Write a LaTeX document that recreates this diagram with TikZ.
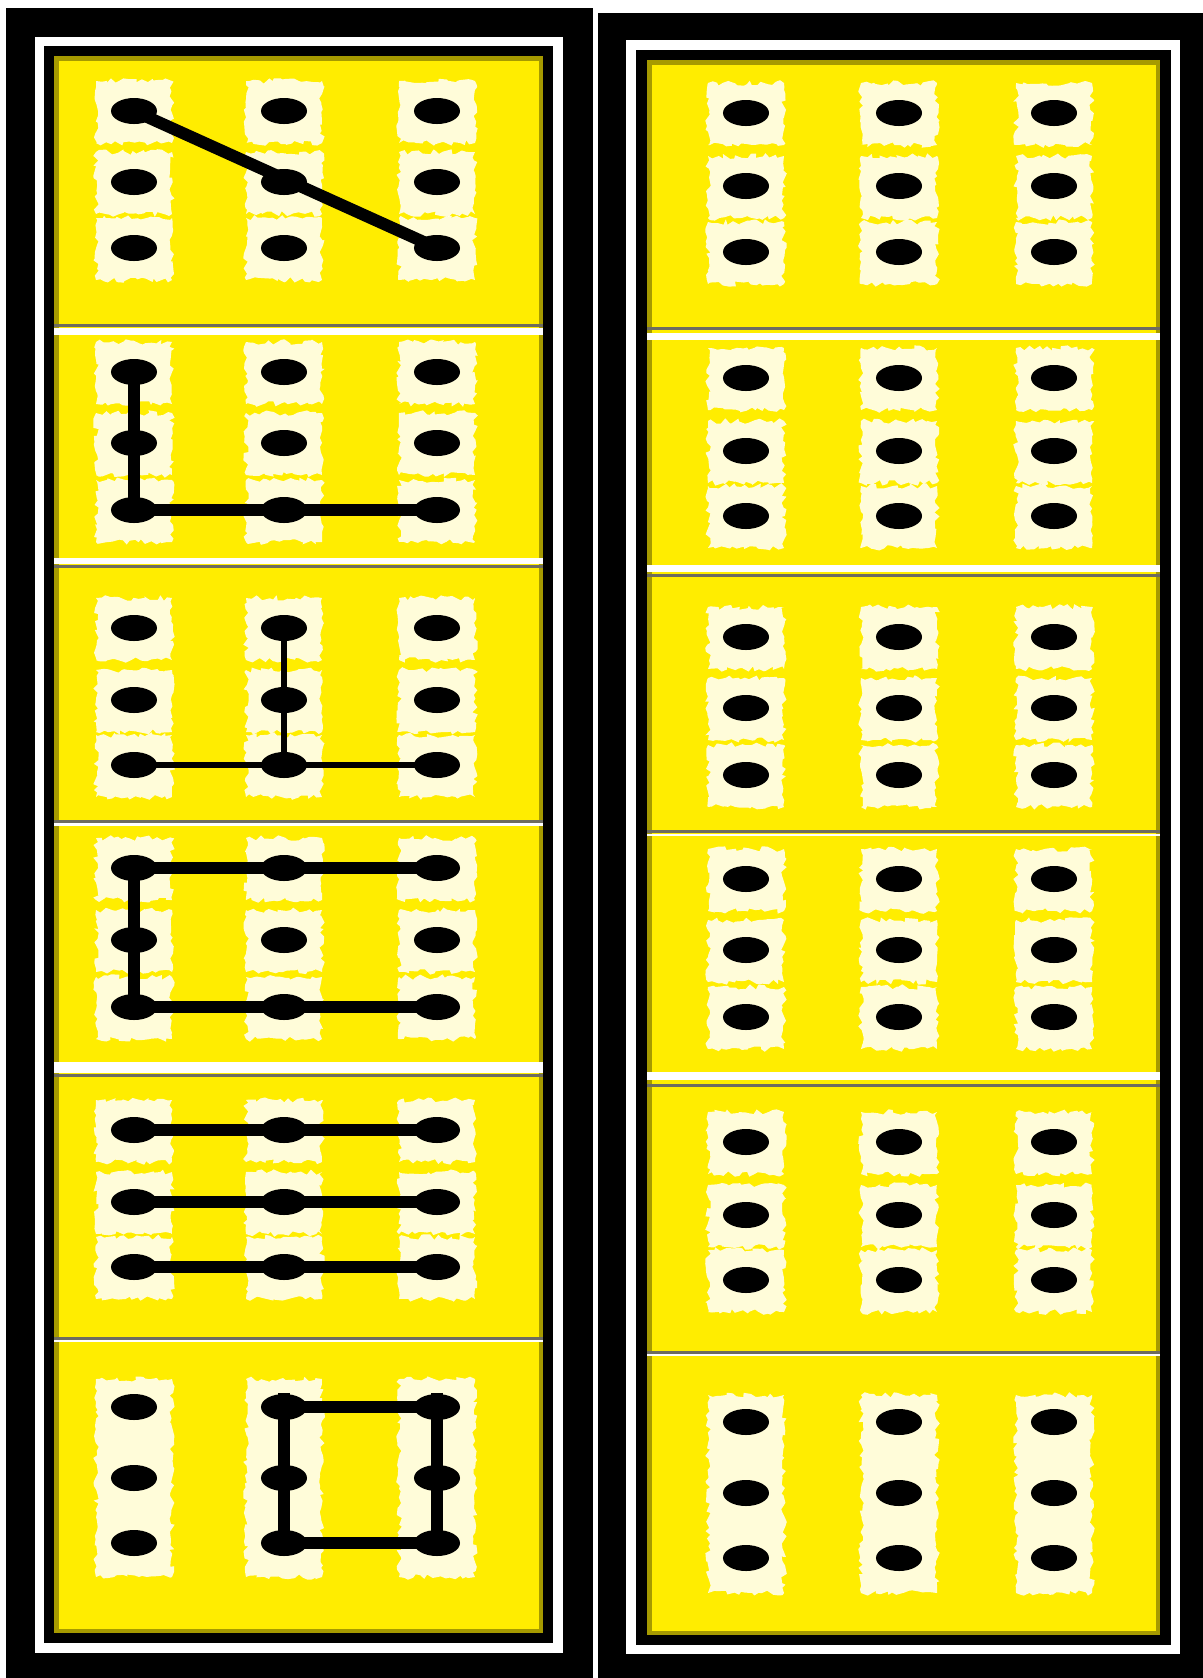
\documentclass[tikz,border=0pt]{standalone}
\usepackage{tikz}
\usetikzlibrary{shapes.geometric,decorations.pathmorphing}
\definecolor{PadYellow}{RGB}{255,237,0}
\definecolor{RuleGrey}{RGB}{110,108,96}

\begin{document}
\begin{tikzpicture}[
  x=0.01cm, y=-0.01cm,
  dot/.style={ellipse,fill=black,inner sep=0pt,minimum width=0.46cm,minimum height=0.26cm},
  patch/.style={fill=white,opacity=0.85,decorate,decoration={random steps,segment length=1.2pt,amplitude=0.8pt}},
  link/.style={line width=0.12cm},
  thinlink/.style={line width=0.065cm},
  rule/.style={draw=RuleGrey,line width=0.03cm},
  inshade/.style={draw=black,opacity=0.35,line width=0.05cm}
]
\pgfmathsetseed{11}
\useasboundingbox (0,0) rectangle (1203,1678);
\fill[white] (0,0) rectangle (1203,1678);
% left card frame
\fill[black] (6,8) rectangle (593,1678);
\fill[white] (35,37) rectangle (563,1653);
\fill[black] (44,46) rectangle (553,1643);
\fill[PadYellow] (54,56) rectangle (543,1633);
\draw[inshade] (56,58) rectangle (541,1631);
% right card frame
\fill[black] (598,13) rectangle (1203,1678);
\fill[white] (626,40) rectangle (1180,1654);
\fill[black] (636,50) rectangle (1171,1645);
\fill[PadYellow] (647,60) rectangle (1160,1635);
\draw[inshade] (649,62) rectangle (1158,1633);
% separators
\foreach \yg/\ya/\yb in {325/328/335,566/558/564,821/823/826,1075/1062/1073,1338/1340/1342}{
  \fill[white] (54,\ya) rectangle (543,\yb);
  \draw[rule] (54,\yg) -- (543,\yg);
}
\foreach \yg/\ya/\yb in {328/333/340,575/565/572,831/834/836,1085/1072/1080,1352/1354/1356}{
  \fill[white] (647,\ya) rectangle (1160,\yb);
  \draw[rule] (647,\yg) -- (1160,\yg);
}
% left dots
\foreach \cell/\ya/\yb/\yc in {1/111/182/248,2/372/443/510,3/628/700/765,4/868/940/1007,5/1130/1202/1267,6/1407/1478/1543}{
  \ifnum\cell=6
    \foreach \x in {134,284,437} \path[patch] (\x-38,\ya-28) rectangle (\x+38,\yc+34);
  \else
    \foreach \x in {134,284,437} \foreach \y in {\ya,\yb,\yc} \path[patch] (\x-38,\y-30) rectangle (\x+38,\y+32);
  \fi
  \foreach \row/\y in {1/\ya,2/\yb,3/\yc}
    \foreach \col/\x in {1/134,2/284,3/437}
      \node[dot] (L\cell-\row\col) at (\x,\y) {};
}
% right dots
\foreach \cell/\ya/\yb/\yc in {1/113/186/252,2/378/451/516,3/637/708/775,4/879/950/1017,5/1142/1215/1280,6/1422/1493/1558}{
  \ifnum\cell=6
    \foreach \x in {746,899,1054} \path[patch] (\x-38,\ya-27) rectangle (\x+38,\yc+35);
  \else
    \foreach \x in {746,899,1054} \foreach \y in {\ya,\yb,\yc} \path[patch] (\x-38,\y-30) rectangle (\x+38,\y+32);
  \fi
  \foreach \row/\y in {1/\ya,2/\yb,3/\yc}
    \foreach \col/\x in {1/746,2/899,3/1054}
      \node[dot] (R\cell-\row\col) at (\x,\y) {};
}
% patterns
\draw[link] (L1-11.center) -- (L1-33.center);
\draw[link] (L2-11.center) -- (L2-31.center) -- (L2-33.center);
\draw[thinlink] (L3-12.center) -- (L3-32.center);
\draw[thinlink] (L3-31.center) -- (L3-33.center);
\draw[link] (L4-13.center) -- (L4-11.center) -- (L4-31.center) -- (L4-33.center);
\draw[link] (L5-11.center) -- (L5-13.center);
\draw[link] (L5-21.center) -- (L5-23.center);
\draw[link] (L5-31.center) -- (L5-33.center);
\draw[link] ([yshift=4pt]L6-12.center) -- (L6-32.center);
\draw[link] ([yshift=4pt]L6-13.center) -- (L6-33.center);
\draw[link] (L6-12.center) -- (L6-13.center);
\draw[link] (L6-32.center) -- ([xshift=5pt]L6-33.center);
\end{tikzpicture}
\end{document}
